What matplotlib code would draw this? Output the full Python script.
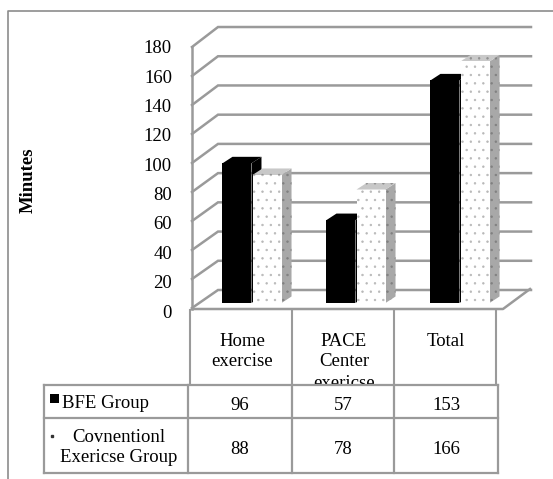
import matplotlib
matplotlib.use("Agg")
import matplotlib.pyplot as plt
from matplotlib.patches import Polygon, Rectangle

plt.rcParams['font.family'] = ['Liberation Serif', 'DejaVu Serif']
plt.rcParams['hatch.linewidth'] = 0.5

categories = ["Home\nexercise", "PACE\nCenter\nexericse", "Total"]
bfe_group = [96, 57, 153]
conv_group = [88, 78, 166]
table_values = [["96", "57", "153"], ["88", "78", "166"]]
row_names = ["BFE Group", "Covnentionl\nExericse Group"]
y_ticks = [0, 20, 40, 60, 80, 100, 120, 140, 160, 180]

W, H = 553, 479
GREY = '#9a9a9a'
FS = 13.5

fig = plt.figure(figsize=(W / 100, H / 100), dpi=100)

# pixel axes for the frame, walls and table
px = fig.add_axes([0, 0, 1, 1])
px.set_xlim(0, W)
px.set_ylim(H, 0)
px.axis('off')

# data axes, same area, scaled so bars land on the front plane
KX, KY = 104.0, 1.455
X0, Y0 = 252, 303
ax = fig.add_axes([0, 0, 1, 1])
ax.set_xlim(-X0 / KX, (W - X0) / KX)
ax.set_ylim(-(H - Y0) / KY, Y0 / KY)
ax.axis('off')
ax.patch.set_alpha(0)

# outer border: only left and top show
px.plot([8, 8, 553], [479, 10.5, 10.5], color='#8c8c8c', lw=1.2)

# walls
for v in y_ticks:
    yf = 308 - v * 1.45
    yb = 290 - v * 1.461
    px.plot([192, 218, 531], [yf, yb, yb], color=GREY, lw=1.8, solid_joinstyle='miter')
    px.text(172, 313 - v * 1.467, str(v), ha='right', va='center', fontsize=FS, color='black')
px.plot([192, 192], [47, 309], color=GREY, lw=1.8)
px.plot([192, 503, 530], [309, 309, 289], color=GREY, lw=1.8)

px.text(28, 180, "Minutes", rotation=90, ha='center', va='center', fontsize=13.5,
        fontweight='bold')

# bars
bw = 29 / KX
dx, dy = 10 / KX, 6.5 / KY


def draw_bar(xc, val, face, top, side, hatch, z):
    left, right = xc - bw / 2, xc + bw / 2
    ax.add_patch(Polygon([(right, 0), (right + dx, dy), (right + dx, val + dy), (right, val)],
                         facecolor=side, edgecolor=side if hatch is None else '#808080',
                         lw=0, hatch=hatch, zorder=z))
    ax.add_patch(Polygon([(left, val), (left + dx, val + dy), (right + dx, val + dy), (right, val)],
                         facecolor=top, edgecolor=top if hatch is None else '#909090',
                         lw=0, hatch=hatch, zorder=z))
    ax.bar(xc, val, width=bw, color=face, edgecolor='#b8b8b8' if hatch else face,
           linewidth=0, hatch=hatch, zorder=z + 0.1)


for i in range(3):
    draw_bar(i - bw / 2 - 0.005, bfe_group[i], 'black', 'black', 'black', None, 3)
    draw_bar(i + bw / 2 + 0.005, conv_group[i], 'white', '#c8c8c8', '#a8a8a8', '..', 4)

# category cells above the table
for x in [190, 292, 394, 496]:
    px.plot([x, x], [310, 385], color=GREY, lw=1.5, zorder=5)
for i, name in enumerate(categories):
    lines = name.split("\n")
    for j, part in enumerate(lines):
        px.text(242 + i * 102, 341 + j * 21, part, ha='center', va='center', fontsize=FS, zorder=5)

# table
px.add_patch(Rectangle((44, 385), 454, 88, facecolor='white', edgecolor='none', zorder=6))
tx = [44, 188, 292, 394, 498]
for x in tx:
    px.plot([x, x], [385, 473], color=GREY, lw=1.6, zorder=7)
for y in [385, 418, 473]:
    px.plot([44, 498], [y, y], color=GREY, lw=1.6, zorder=7)

px.add_patch(Rectangle((50, 394), 8.5, 9, facecolor='black', zorder=8))
px.plot([51.5], [436], marker='s', ms=1.5, color='#333333', zorder=8)
px.text(62, 403, row_names[0], ha='left', va='center', fontsize=FS, zorder=8)
parts = row_names[1].split("\n")
px.text(119, 437, parts[0], ha='center', va='center', fontsize=FS, zorder=8)
px.text(119, 458, parts[1], ha='center', va='center', fontsize=FS, zorder=8)
for r, row in enumerate(table_values):
    for c, val in enumerate(row):
        px.text(240 + c * 103, 405 + r * 44, val, ha='center', va='center', fontsize=FS, zorder=8)

fig.savefig("out.png", dpi=100)
